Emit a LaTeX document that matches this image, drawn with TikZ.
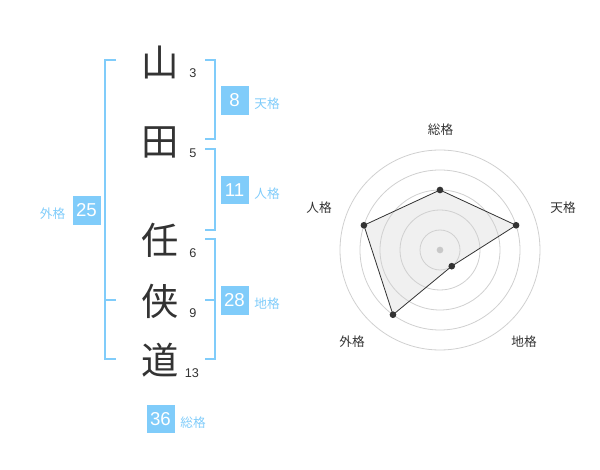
\documentclass[tikz,border=0pt]{standalone}
\usepackage{fontspec}
\usetikzlibrary{positioning}
\setmainfont{Liberation Sans}
\newfontfamily\jp{Noto Sans CJK JP}
\definecolor{kakublue}{RGB}{128,204,250}
\definecolor{ink}{RGB}{51,51,51}
\definecolor{ringgray}{RGB}{208,208,208}
\definecolor{areagray}{RGB}{240,240,240}
\definecolor{hubgray}{RGB}{200,200,200}
\tikzset{
  kanji/.style={text=ink, font=\jp\fontsize{28}{28}\selectfont, inner sep=0pt},
  strokes/.style={text=ink, font=\fontsize{9.5}{10}\selectfont, inner sep=0pt},
  kakubox/.style={fill=kakublue, text=white, minimum width=21pt, minimum height=21.5pt, inner sep=0pt, font=\fontsize{14}{14}\selectfont},
  kakuname/.style={text=kakublue, font=\jp\fontsize{9.5}{10}\selectfont, inner sep=0pt, yshift=-2.5pt},
  bracket/.style={draw=kakublue, line width=1.5pt},
  axisname/.style={text=ink, font=\jp\fontsize{9.5}{10}\selectfont, inner sep=0pt},
  scoredot/.style={circle, fill=ink, inner sep=0pt, minimum size=5pt},
}
\begin{document}
\begin{tikzpicture}[x=0.75pt, y=-0.75pt]
\useasboundingbox (0,0) rectangle (600,470);
% name
\node[kanji] (k1) at (160,62) {山};
\node[kanji] (k2) at (160,142) {田};
\node[kanji] (k3) at (160,240) {任};
\node[kanji] (k4) at (160,301) {侠};
\node[kanji] (k5) at (160,360) {道};
\node[strokes] (s1) at (193,73) {3};
\node[strokes] (s2) at (193,153) {5};
\node[strokes] (s3) at (193,253) {6};
\node[strokes] (s4) at (193,313) {9};
\node[strokes] (s5) at (192,373) {13};
% brackets
\draw[bracket] (205,60) -- (215,60) -- (215,139.5) -- (205,139.5);
\draw[bracket] (205,149.5) -- (215,149.5) -- (215,230) -- (205,230);
\draw[bracket] (205,239.5) -- (215,239.5) -- (215,359.5) -- (205,359.5);
\draw[bracket] (205,300) -- (215,300);
\draw[bracket] (116,60) -- (105,60) -- (105,359.5) -- (116,359.5);
\draw[bracket] (105,300) -- (116,300);
% kaku values
\node[kakubox] (ten) at (234.5,100.5) {8};
\node[kakuname, right=4pt of ten] (tenL) {天格};
\node[kakubox] (jin) at (234.5,190) {11};
\node[kakuname, right=4pt of jin] (jinL) {人格};
\node[kakubox] (chi) at (234.5,300.5) {28};
\node[kakuname, right=4pt of chi] (chiL) {地格};
\node[kakubox] (gai) at (86.5,210.5) {25};
\node[kakuname, left=5pt of gai] (gaiL) {外格};
\node[kakubox] (so) at (160.5,419) {36};
\node[kakuname, right=4pt of so] (soL) {総格};
% radar
\begin{scope}[shift={(440,250)}, y=0.75pt]
\coordinate (pSo) at (90:60);
\coordinate (pTen) at (18:80);
\coordinate (pChi) at (-54:20);
\coordinate (pGai) at (-126:80);
\coordinate (pJin) at (162:80);
\fill[areagray] (pSo) -- (pTen) -- (pChi) -- (pGai) -- (pJin) -- cycle;
\foreach \r in {20,40,60,80,100}
  \draw[ringgray, line width=0.6pt] (0,0) circle (\r);
\node[circle, fill=hubgray, inner sep=0pt, minimum size=5pt] (hub) at (0,0) {};
\draw[ink, line width=0.6pt] (pSo) -- (pTen) -- (pChi) -- (pGai) -- (pJin) -- cycle;
\foreach \p in {pSo,pTen,pChi,pGai,pJin}
  \node[scoredot] at (\p) {};
\end{scope}
\node[axisname] (aSo) at (440.5,130) {総格};
\node[axisname] (aTen) at (563,208) {天格};
\node[axisname] (aJin) at (319,208) {人格};
\node[axisname] (aGai) at (352,342) {外格};
\node[axisname] (aChi) at (524,342) {地格};
\end{tikzpicture}
\end{document}
